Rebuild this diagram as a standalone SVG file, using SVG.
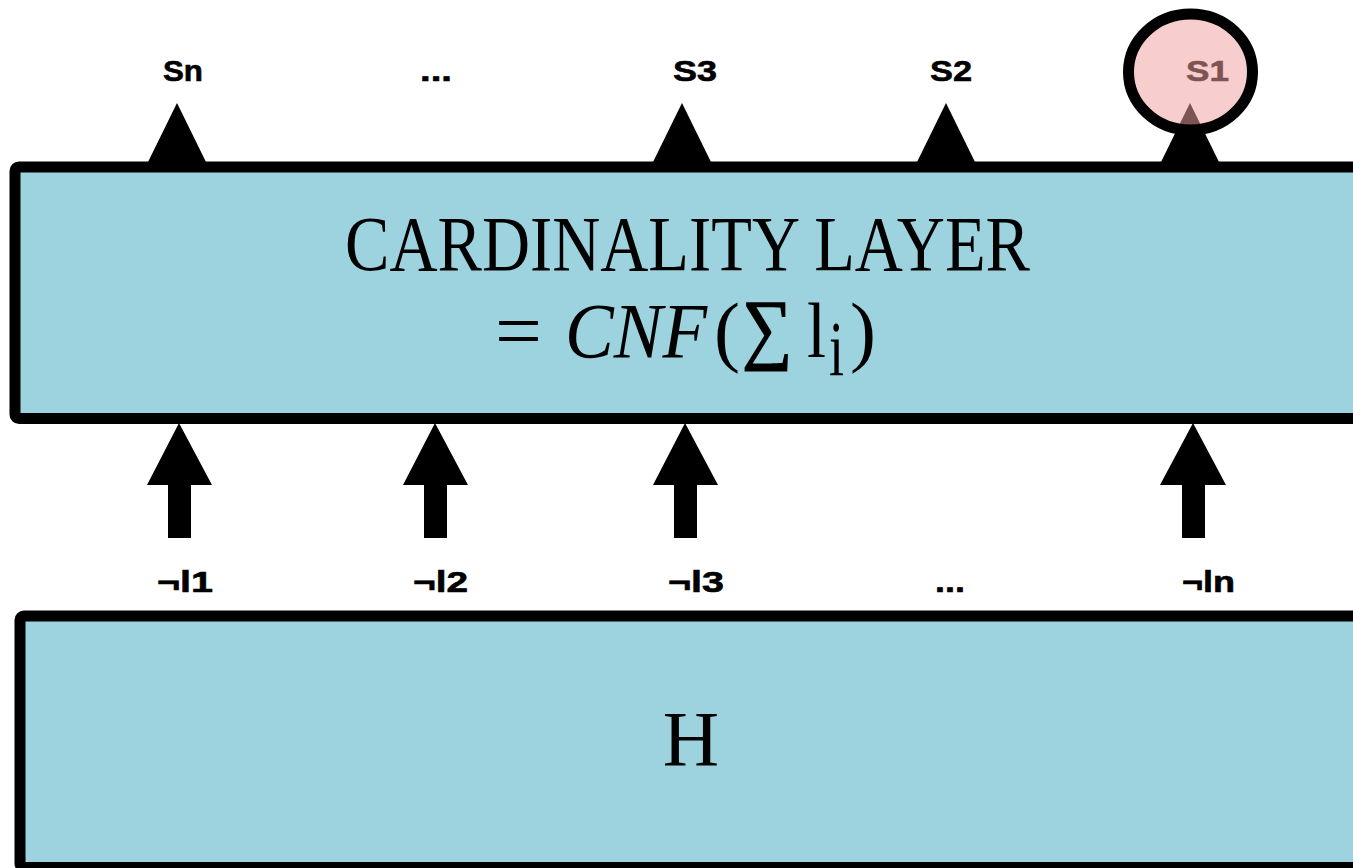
<svg xmlns="http://www.w3.org/2000/svg" width="1353" height="868" viewBox="0 0 1353 868">
<style>
.box{fill:#9cd3df;stroke:#000;stroke-width:11}
.lbl{font-family:"Liberation Sans",Arial,sans-serif;font-weight:bold;font-size:30px;fill:#000;stroke:#000;stroke-width:0.6}
.ser{font-family:"Liberation Serif","Times New Roman",serif;font-size:78px;fill:#000}
.head{fill:#000}
</style>
<g id="cardinality-layer">
<rect class="box" x="15" y="167" width="1345" height="251.5" rx="4"/>
<text class="ser" x="345" y="270" textLength="685" lengthAdjust="spacingAndGlyphs">CARDINALITY LAYER</text>
<text class="ser" x="495" y="357" textLength="47" lengthAdjust="spacingAndGlyphs">=</text>
<text class="ser" x="565" y="357" font-style="italic" textLength="142" lengthAdjust="spacingAndGlyphs">CNF</text>
<text class="ser" x="714" y="357" textLength="26" lengthAdjust="spacingAndGlyphs">(</text>
<text class="ser" x="742" y="354" textLength="50" lengthAdjust="spacingAndGlyphs" font-size="108" stroke="#000" stroke-width="1.5">∑</text>
<text class="ser" x="807" y="357" textLength="19" lengthAdjust="spacingAndGlyphs">l</text>
<text class="ser" x="829" y="375" font-size="58" textLength="15" lengthAdjust="spacingAndGlyphs">i</text>
<text class="ser" x="850" y="357" textLength="26" lengthAdjust="spacingAndGlyphs">)</text>
</g>
<g id="h-layer">
<rect class="box" x="20" y="616" width="1345" height="251.5" rx="4"/>
<text class="ser" x="691" y="765" text-anchor="middle">H</text>
</g>
<g id="connectors">
<polygon class="head" points="177,103 148,162 206,162"/>
<polygon class="head" points="682,103 653,162 711,162"/>
<polygon class="head" points="946,103 917,162 975,162"/>
<polygon class="head" points="1190,103 1161,162 1219,162"/>
<path class="head" d="M179,423 L212,485 L191,485 L191,538 L168,538 L168,485 L147,485 Z"/>
<path class="head" d="M435,423 L468,485 L447,485 L447,538 L424,538 L424,485 L403,485 Z"/>
<path class="head" d="M685,423 L718,485 L697,485 L697,538 L674,538 L674,485 L653,485 Z"/>
<path class="head" d="M1193,423 L1226,485 L1205,485 L1205,538 L1182,538 L1182,485 L1160,485 Z"/>
</g>
<g id="outputs">
<text class="lbl" x="163" y="81" textLength="40" lengthAdjust="spacingAndGlyphs">Sn</text>
<text class="lbl" x="420" y="81" textLength="32" lengthAdjust="spacingAndGlyphs">...</text>
<text class="lbl" x="673" y="81" textLength="44" lengthAdjust="spacingAndGlyphs">S3</text>
<text class="lbl" x="930" y="81" textLength="42" lengthAdjust="spacingAndGlyphs">S2</text>
</g>
<g id="s1">
<text class="lbl" x="1186" y="81" textLength="43" lengthAdjust="spacingAndGlyphs">S1</text>
<ellipse cx="1190.5" cy="72" rx="62" ry="58" fill="rgb(240,160,160)" fill-opacity="0.52" stroke="#000" stroke-width="11"/>
</g>
<g id="inputs">
<text class="lbl" x="157" y="592" textLength="56" lengthAdjust="spacingAndGlyphs">¬l1</text>
<text class="lbl" x="413" y="592" textLength="55" lengthAdjust="spacingAndGlyphs">¬l2</text>
<text class="lbl" x="668" y="592" textLength="56" lengthAdjust="spacingAndGlyphs">¬l3</text>
<text class="lbl" x="935" y="592" textLength="30" lengthAdjust="spacingAndGlyphs">...</text>
<text class="lbl" x="1182" y="592" textLength="53" lengthAdjust="spacingAndGlyphs">¬ln</text>
</g>
</svg>
